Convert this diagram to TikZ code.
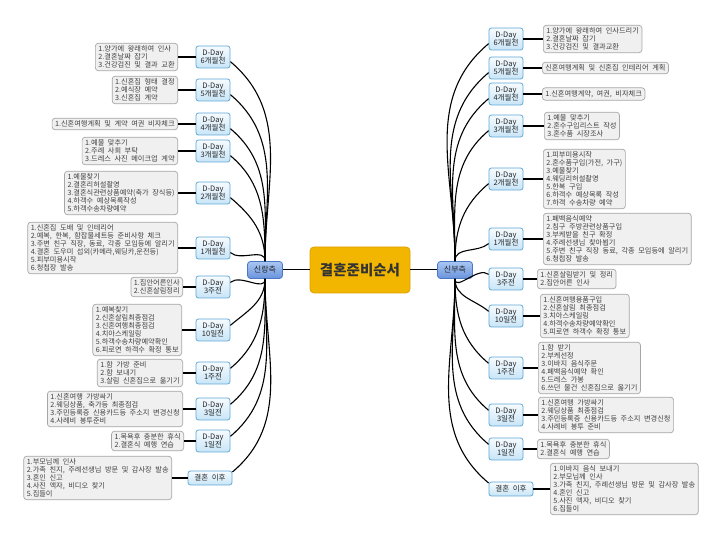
\documentclass[tikz,border=0pt]{standalone}
\usepackage{fontspec}
\newfontfamily\kr[WordSpace=2.2]{Noto Sans CJK KR}
\definecolor{tbfill}{HTML}{F0F0F0}
\definecolor{tbdraw}{HTML}{A6A6A6}
\definecolor{ddtop}{HTML}{F6FBFE}
\definecolor{ddbot}{HTML}{C9E5F7}
\definecolor{dddraw}{HTML}{5FA8D8}
\definecolor{sdtop}{HTML}{A9C7F3}
\definecolor{sdbot}{HTML}{6A94DC}
\definecolor{sddraw}{HTML}{4A78C4}
\definecolor{rtfill}{HTML}{F2B600}
\definecolor{rtdraw}{HTML}{DDA000}
\definecolor{txt}{HTML}{404040}
\begin{document}
\begin{tikzpicture}[x=1pt,y=1pt,
 tbox/.style={draw=tbdraw, line width=0.7pt, rounded corners=3pt, fill=tbfill, align=left, inner xsep=3pt, inner ysep=2.5pt, font=\kr\fontsize{7.2}{8}\selectfont, text=txt},
 dday/.style={draw=dddraw, line width=0.8pt, rounded corners=2.5pt, top color=ddtop, bottom color=ddbot, minimum width=34pt, minimum height=22pt, inner sep=1pt, align=center, font=\kr\fontsize{7.5}{8.5}\selectfont, text=black!85},
 afterbox/.style={dday, minimum width=44pt, minimum height=14pt},
 sidebox/.style={draw=sddraw, line width=0.8pt, rounded corners=3pt, top color=sdtop, bottom color=sdbot, minimum width=35pt, minimum height=17pt, inner sep=1pt, font=\kr\fontsize{8}{9}\selectfont, text=black!85},
 rootbox/.style={draw=rtdraw, line width=0.8pt, rounded corners=4pt, fill=rtfill, minimum width=100pt, minimum height=46pt, font=\kr\bfseries\fontsize{14.5}{16}\selectfont, text=black!80},
 branch/.style={line width=1.1pt},
 link/.style={line width=1.8pt},
 rootlink/.style={line width=1pt}
]
\useasboundingbox (0,0) rectangle (720,540);

% root and sides
\node[rootbox] (root) at (360,270) {결혼준비순서};
\node[sidebox] (lr) at (265,270) {신랑측};
\node[sidebox] (br) at (455,270) {신부측};

% left D-Day nodes
\node[dday] (l6) at (213,483) {D-Day\\6개월전};
\node[dday] (l5) at (213,450) {D-Day\\5개월전};
\node[dday] (l4) at (213,416) {D-Day\\4개월전};
\node[dday] (l3) at (213,389) {D-Day\\3개월전};
\node[dday] (l2) at (213,347) {D-Day\\2개월전};
\node[dday] (l1) at (213,292) {D-Day\\1개월전};
\node[dday] (l3w) at (213,253) {D-Day\\3주전};
\node[dday] (l10d) at (213,210) {D-Day\\10일전};
\node[dday] (l1w) at (213,167) {D-Day\\1주전};
\node[dday] (l3d) at (213,131) {D-Day\\3일전};
\node[dday] (l1d) at (213,99) {D-Day\\1일전};
\node[afterbox] (la) at (210,62) {결혼 이후};

% left text boxes
\node[tbox, anchor=east] (t6) at (178,483) {1.양가에 왕래하여 인사\\2.결혼날짜 잡기\\3.건강검진 및 결과 교환};
\node[tbox, anchor=east] (t5) at (178,450) {1.신혼집 형태 결정\\2.예식장 예약\\3.신혼집 계약};
\node[tbox, anchor=east] (t4) at (178,416) {1.신혼여행계획 및 계약 여권 비자체크};
\node[tbox, anchor=east] (t3) at (178,389) {1.예물 맞추기\\2.주례 사회 부탁\\3.드레스 사진 메이크업 계약};
\node[tbox, anchor=east] (t2) at (178,347) {1.예물찾기\\2.결혼리허설촬영\\3.결혼식관련상품예약(축가 장식등)\\4.하객수 예상목록작성\\5.하객수송차량예약};
\node[tbox, anchor=east] (t1) at (178,292) {1.신혼집 도배 및 인테리어\\2.예복, 한복, 함잡물세트등 준비사항 체크\\3.주변 친구 직장, 동료, 각종 모임등에 알리기\\4.결혼 도우미 섭외(카메라,웨딩카,운전등)\\5.피부미용시작\\6.청첩장 발송};
\node[tbox, anchor=east] (t3w) at (183,253) {1.집안어른인사\\2.신혼살림정리};
\node[tbox, anchor=east] (t10d) at (182,210) {1.예복찾기\\2.신혼살림최종점검\\3.신혼여행최종점검\\4.치아스케일링\\5.하객수송차량예약확인\\6.피로연 하객수 확정 통보};
\node[tbox, anchor=east] (t1w) at (183,167) {1.함 가방 준비\\2.함 보내기\\3.살림 신혼집으로 옮기기};
\node[tbox, anchor=east] (t3d) at (183,131) {1.신혼여행 가방싸기\\2.웨딩상품, 축가등 최종점검\\3.주민등록증 신용카드등 주소지 변경신청\\4.사례비 봉투준비};
\node[tbox, anchor=east] (t1d) at (184,99) {1.목욕후 충분한 휴식\\2.결혼식 예행 연습};
\node[tbox, anchor=east] (ta) at (172,62) {1.부모님께 인사\\2.가족 친지, 주례선생님 방문 및 감사장 발송\\3.혼인 신고\\4.사진 액자, 비디오 찾기\\5.집들이};

% right D-Day nodes
\node[dday] (r6) at (506,501) {D-Day\\6개월전};
\node[dday] (r5) at (506,472) {D-Day\\5개월전};
\node[dday] (r4) at (506,446) {D-Day\\4개월전};
\node[dday] (r3) at (506,414) {D-Day\\3개월전};
\node[dday] (r2) at (506,361) {D-Day\\2개월전};
\node[dday] (r1) at (506,301) {D-Day\\1개월전};
\node[dday] (r3w) at (506,261) {D-Day\\3주전};
\node[dday] (r10d) at (506,224) {D-Day\\10일전};
\node[dday] (r1w) at (506,172) {D-Day\\1주전};
\node[dday] (r3d) at (506,125) {D-Day\\3일전};
\node[dday] (r1d) at (506,91) {D-Day\\1일전};
\node[afterbox] (ra) at (511,51) {결혼 이후};

% right text boxes
\node[tbox, anchor=west] (s6) at (543,501) {1.양가에 왕래하여 인사드리기\\2.결혼날짜 잡기\\3.건강검진 및 결과교환};
\node[tbox, anchor=west] (s5) at (542,472) {신혼여행계획 및 신혼집 인테리어 계획};
\node[tbox, anchor=west] (s4) at (542,446) {1.신혼여행계약, 여권, 비자체크};
\node[tbox, anchor=west] (s3) at (544,414) {1.예물 맞추기\\2.혼수구입리스트 작성\\3.혼수품 시장조사};
\node[tbox, anchor=west] (s2) at (543,361) {1.피부미용시작\\2.혼수품구입(가전, 가구)\\3.예물찾기\\4.웨딩리허설촬영\\5.한복 구입\\6.하객수 예상목록 작성\\7.하객 수송차량 예약};
\node[tbox, anchor=west] (s1) at (543,301) {1.폐백음식예약\\2.침구 주방관련상품구입\\3.부케받을 친구 확정\\4.주례선생님 찾아뵙기\\5.주변 친구 직장 동료, 각종 모임등에 알리기\\6.청첩장 발송};
\node[tbox, anchor=west] (s3w) at (537,261) {1.신혼살림받기 및 정리\\2.집안어른 인사};
\node[tbox, anchor=west] (s10d) at (540,224) {1.신혼여행용품구입\\2.신혼살림 최종점검\\3.치아스케일링\\4.하객수송차량예약확인\\5.피로연 하객수 확정 통보};
\node[tbox, anchor=west] (s1w) at (538,172) {1.함 받기\\2.부케선정\\3.이바지 음식주문\\4.폐백음식예약 확인\\5.드레스 가봉\\6.쓰던 물건 신혼집으로 옮기기};
\node[tbox, anchor=west] (s3d) at (538,125) {1.신혼여행 가방싸기\\2.웨딩상품 최종점검\\3.주민등록증 신용카드등 주소지 변경신청\\4.사례비 봉투 준비};
\node[tbox, anchor=west] (s1d) at (537,91) {1.목욕후 충분한 휴식\\2.결혼식 예행 연습};
\node[tbox, anchor=west] (sa) at (550,51) {1.이바지 음식 보내기\\2.부모님께 인사\\3.가족 친지, 주례선생님 방문 및 감사장 발송\\4.혼인 신고\\5.사진 액자, 비디오 찾기\\6.집들이};

% root links
\draw[rootlink] (root) -- (lr);
\draw[rootlink] (root) -- (br);

% D-Day to text links
\foreach \a/\b in {l6/t6,l5/t5,l4/t4,l3/t3,l2/t2,l1/t1,l3w/t3w,l10d/t10d,l1w/t1w,l3d/t3d,l1d/t1d,la/ta,
  r6/s6,r5/s5,r4/s4,r3/s3,r2/s2,r1/s1,r3w/s3w,r10d/s10d,r1w/s1w,r3d/s3d,r1d/s1d,ra/sa}
  \draw[link] (\a) -- (\b);

% branches
\foreach \n in {l6,l5,l4,l3,l2,l1}
  \draw[branch] (lr.north) to[out=90,in=-40] (\n.-15);
\foreach \n in {l3w,l10d,l1w,l3d,l1d,la}
  \draw[branch] (lr.south) to[out=-90,in=40] (\n.15);
\foreach \n in {r6,r5,r4,r3,r2,r1}
  \draw[branch] (br.north) to[out=90,in=220] (\n.195);
\foreach \n in {r3w,r10d,r1w,r3d,r1d,ra}
  \draw[branch] (br.south) to[out=-90,in=140] (\n.165);
\end{tikzpicture}
\end{document}
